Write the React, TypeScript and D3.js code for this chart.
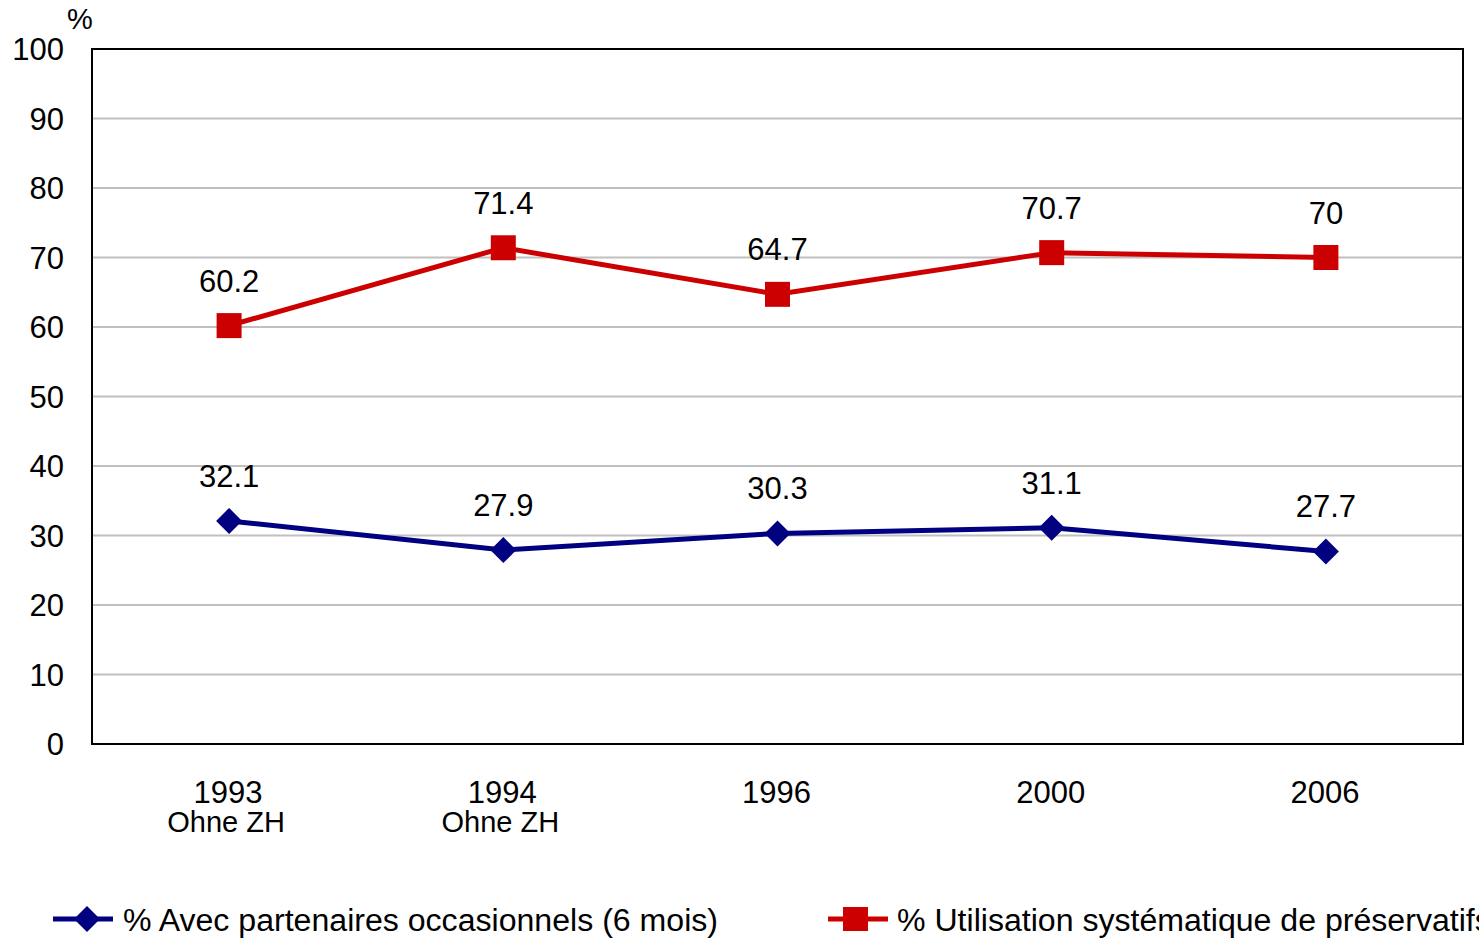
import { useEffect, useRef } from "react";
import * as d3 from "d3";

const years = ["1993", "1994", "1996", "2000", "2006"];
const subLabels = ["Ohne ZH", "Ohne ZH", "", "", ""];
const partenaires = [32.1, 27.9, 30.3, 31.1, 27.7];
const preservatifs = [60.2, 71.4, 64.7, 70.7, 70];
const yTicks = [0, 10, 20, 30, 40, 50, 60, 70, 80, 90, 100];

const BLUE = "#000080";
const RED = "#cc0000";
const FONT = "'Liberation Sans', Arial, sans-serif";

export default function App() {
  const svgRef = useRef<SVGSVGElement | null>(null);

  useEffect(() => {
    if (!svgRef.current) return;
    const W = 1479;
    const H = 939;
    const margin = { top: 49, right: 16, bottom: 195, left: 92 };
    const innerW = W - margin.left - margin.right;
    const innerH = H - margin.top - margin.bottom;

    const svg = d3.select(svgRef.current);
    svg.selectAll("*").remove();
    svg.attr("width", W).attr("height", H).style("font-family", FONT);

    const g = svg
      .append("g")
      .attr("transform", `translate(${margin.left},${margin.top})`);

    const x = d3.scaleBand<string>().domain(years).range([0, innerW]).padding(0);
    const cx = (i: number) => x(years[i])! + x.bandwidth() / 2;
    const y = d3.scaleLinear().domain([0, 100]).range([innerH, 0]);

    // gridlines
    g.selectAll("line.grid")
      .data(yTicks.filter((t) => t > 0 && t < 100))
      .join("line")
      .attr("class", "grid")
      .attr("x1", 0)
      .attr("x2", innerW)
      .attr("y1", (d) => y(d))
      .attr("y2", (d) => y(d))
      .attr("stroke", "#c0c0c0")
      .attr("stroke-width", 2);

    // frame
    g.append("rect")
      .attr("x", 0)
      .attr("y", 0)
      .attr("width", innerW)
      .attr("height", innerH)
      .attr("fill", "none")
      .attr("stroke", "#000")
      .attr("stroke-width", 2);

    // y tick labels
    g.selectAll("text.ytick")
      .data(yTicks)
      .join("text")
      .attr("class", "ytick")
      .attr("x", -28)
      .attr("y", (d) => y(d))
      .attr("dy", "0.36em")
      .attr("text-anchor", "end")
      .attr("font-size", 31)
      .text((d) => d);

    svg.append("text")
      .attr("x", 80)
      .attr("y", 29)
      .attr("text-anchor", "middle")
      .attr("font-size", 29)
      .text("%");

    // x labels
    years.forEach((yr, i) => {
      g.append("text")
        .attr("x", cx(i) - 1)
        .attr("y", innerH + 59)
        .attr("text-anchor", "middle")
        .attr("font-size", 31)
        .text(yr);
      if (subLabels[i]) {
        g.append("text")
          .attr("x", cx(i) - 3)
          .attr("y", innerH + 88)
          .attr("text-anchor", "middle")
          .attr("font-size", 29)
          .text(subLabels[i]);
      }
    });

    const line = d3
      .line<number>()
      .x((_, i) => cx(i))
      .y((d) => y(d));

    const diamond = (s: number) => `M0,${-s}L${s},0L0,${s}L${-s},0Z`;

    // series lines
    g.append("path")
      .datum(partenaires)
      .attr("d", line)
      .attr("fill", "none")
      .attr("stroke", BLUE)
      .attr("stroke-width", 5);
    g.append("path")
      .datum(preservatifs)
      .attr("d", line)
      .attr("fill", "none")
      .attr("stroke", RED)
      .attr("stroke-width", 5);

    g.selectAll("path.dia")
      .data(partenaires)
      .join("path")
      .attr("class", "dia")
      .attr("transform", (d, i) => `translate(${cx(i)},${y(d)})`)
      .attr("d", diamond(13))
      .attr("fill", BLUE);

    g.selectAll("rect.sq")
      .data(preservatifs)
      .join("rect")
      .attr("class", "sq")
      .attr("x", (_, i) => cx(i) - 12.5)
      .attr("y", (d) => y(d) - 12.5)
      .attr("width", 25)
      .attr("height", 25)
      .attr("fill", RED);

    // value labels
    const labels = (vals: number[]) =>
      vals.forEach((v, i) => {
        g.append("text")
          .attr("x", cx(i))
          .attr("y", y(v) - 34)
          .attr("text-anchor", "middle")
          .attr("font-size", 31)
          .text(String(v));
      });
    labels(partenaires);
    labels(preservatifs);

    // legend
    const leg = svg.append("g");
    leg.append("line")
      .attr("x1", 53).attr("x2", 113).attr("y1", 919).attr("y2", 919)
      .attr("stroke", BLUE).attr("stroke-width", 5);
    leg.append("path")
      .attr("transform", "translate(87,919)")
      .attr("d", diamond(13))
      .attr("fill", BLUE);
    const t1 = leg.append("text")
      .attr("x", 123).attr("y", 931)
      .attr("font-size", 31)
      .text("% Avec partenaires occasionnels (6 mois)");

    leg.append("line")
      .attr("x1", 828).attr("x2", 888).attr("y1", 919).attr("y2", 919)
      .attr("stroke", RED).attr("stroke-width", 5);
    leg.append("rect")
      .attr("x", 843).attr("y", 907).attr("width", 25).attr("height", 24)
      .attr("fill", RED);
    const t2 = leg.append("text")
      .attr("x", 897).attr("y", 931)
      .attr("font-size", 31)
      .text("% Utilisation systématique de préservatifs");

    const n1 = (t1.node() as SVGTextElement).getComputedTextLength();
    const ratio = 595 / n1;
    const n2 = (t2.node() as SVGTextElement).getComputedTextLength();
    t1.attr("textLength", 595).attr("lengthAdjust", "spacingAndGlyphs");
    t2.attr("textLength", n2 * ratio).attr("lengthAdjust", "spacingAndGlyphs");
  }, []);

  return (
    <svg
      ref={svgRef}
      style={{ position: "absolute", left: 0, top: 0, display: "block", background: "#fff" }}
    />
  );
}
